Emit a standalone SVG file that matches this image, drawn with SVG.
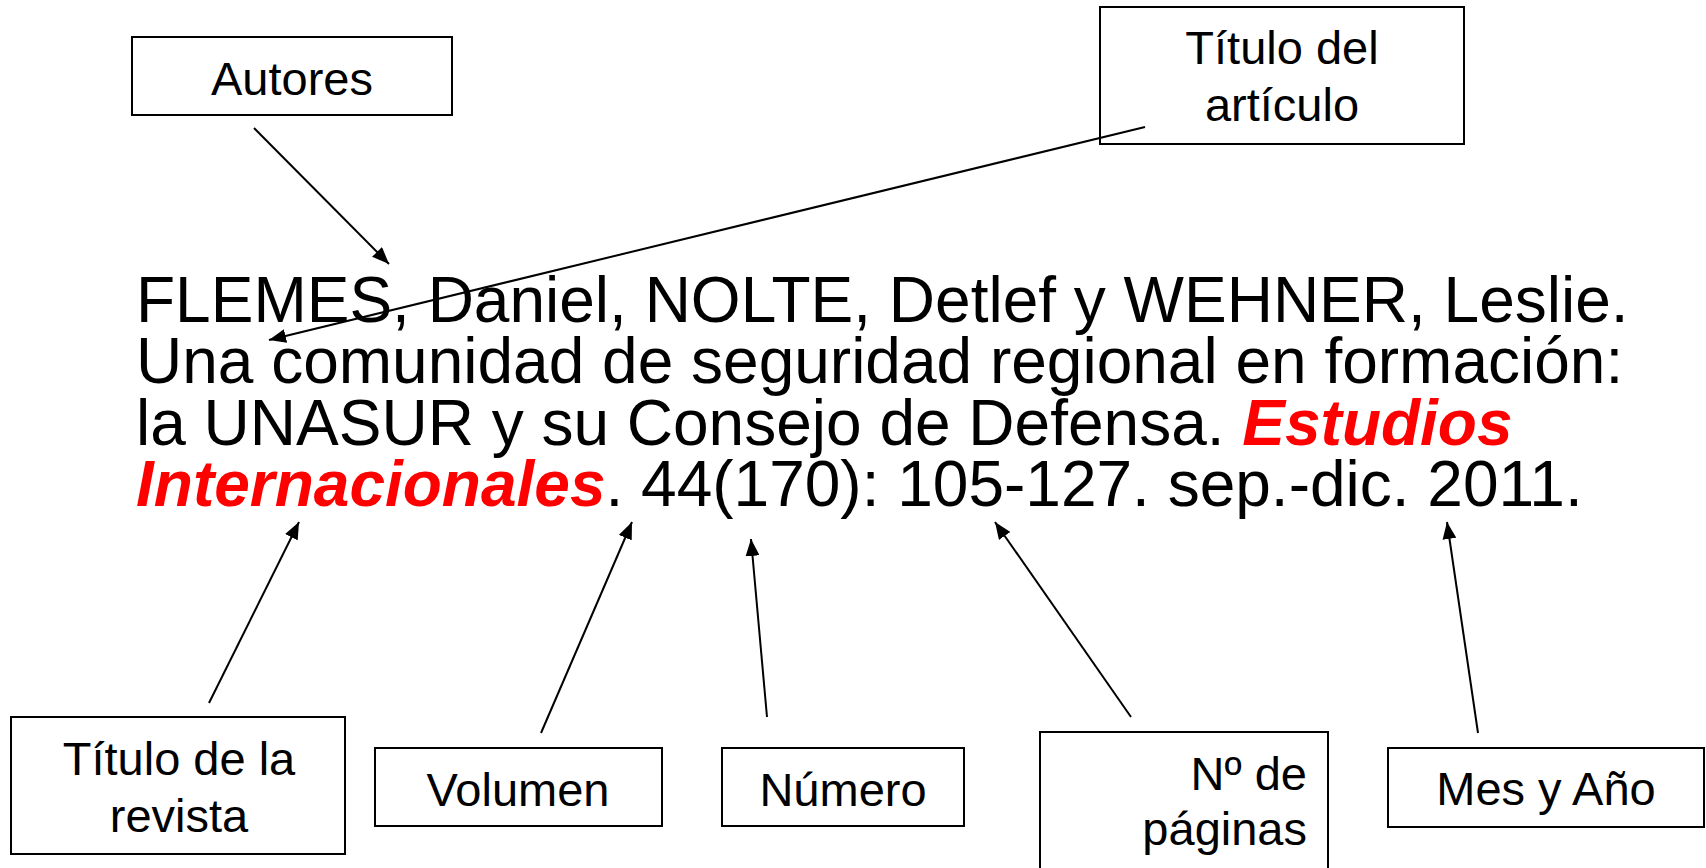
<svg xmlns="http://www.w3.org/2000/svg" width="1706" height="868" viewBox="0 0 1706 868">
<style>
.box{fill:#fff;stroke:#000;stroke-width:2}
.lbl{font-family:"Liberation Sans",Arial,sans-serif;font-size:47px;fill:#000;text-anchor:middle}
.main{font-family:"Liberation Sans",Arial,sans-serif;font-size:64px;fill:#000}
.red{fill:#f00;font-weight:bold;font-style:italic}
.conn{stroke:#000;stroke-width:2;fill:none;marker-end:url(#ah)}
</style>
<defs>
<marker id="ah" markerUnits="userSpaceOnUse" markerWidth="18" markerHeight="14" refX="17" refY="7" orient="auto">
<path d="M0,0 L17,7 L0,14 z" fill="#000"/>
</marker>
</defs>
<rect width="1706" height="868" fill="#fff"/>
<g id="main-text" class="main">
<text x="136" y="322">FLEMES, Daniel, NOLTE, Detlef y WEHNER, Leslie.</text>
<text x="136" y="383">Una comunidad de seguridad regional en formación:</text>
<text x="136" y="445">la UNASUR y su Consejo de Defensa. <tspan class="red">Estudios</tspan></text>
<text x="136" y="506"><tspan class="red">Internacionales</tspan>. 44(170): 105-127. sep.-dic. 2011.</text>
</g>
<g id="autores">
<rect class="box" x="132" y="37" width="320" height="78"/>
<text class="lbl" x="292" y="95">Autores</text>
</g>
<g id="titulo-articulo">
<rect class="box" x="1100" y="7" width="364" height="137"/>
<text class="lbl" x="1282" y="64">Título del</text>
<text class="lbl" x="1282" y="121">artículo</text>
</g>
<g id="titulo-revista">
<rect class="box" x="11" y="717" width="334" height="137"/>
<text class="lbl" x="179" y="775">Título de la</text>
<text class="lbl" x="179" y="832">revista</text>
</g>
<g id="volumen">
<rect class="box" x="375" y="748" width="287" height="78"/>
<text class="lbl" x="518" y="806">Volumen</text>
</g>
<g id="numero">
<rect class="box" x="722" y="748" width="242" height="78"/>
<text class="lbl" x="843" y="806">Número</text>
</g>
<g id="paginas">
<rect class="box" x="1040" y="732" width="288" height="160"/>
<text class="lbl" x="1307" y="790" style="text-anchor:end">Nº de</text>
<text class="lbl" x="1307" y="845" style="text-anchor:end">páginas</text>
</g>
<g id="mes-anio">
<rect class="box" x="1388" y="748" width="316" height="79"/>
<text class="lbl" x="1546" y="805">Mes y Año</text>
</g>
<g id="connectors">
<line class="conn" x1="254" y1="128" x2="389" y2="264"/>
<line class="conn" x1="1145" y1="127" x2="269" y2="340"/>
<line class="conn" x1="209" y1="703" x2="299" y2="522"/>
<line class="conn" x1="541" y1="733" x2="632" y2="522"/>
<line class="conn" x1="767" y1="717" x2="751" y2="539"/>
<line class="conn" x1="1131" y1="717" x2="995" y2="522"/>
<line class="conn" x1="1478" y1="733" x2="1447" y2="522"/>
</g>
</svg>
